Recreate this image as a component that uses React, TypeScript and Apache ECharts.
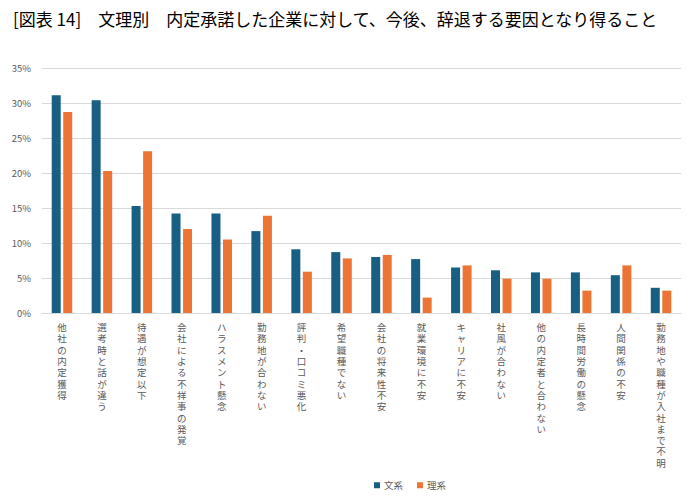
import React, { useEffect, useRef } from "react";
import * as echarts from "echarts";

const categories = [
  "他社の内定獲得",
  "選考時と話が違う",
  "待遇が想定以下",
  "会社による不祥事の発覚",
  "ハラスメント懸念",
  "勤務地が合わない",
  "評判・口コミ悪化",
  "希望職種でない",
  "会社の将来性不安",
  "就業環境に不安",
  "キャリアに不安",
  "社風が合わない",
  "他の内定者と合わない",
  "長時間労働の懸念",
  "人間関係の不安",
  "勤務地や職種が入社まで不明",
];

const bunkei = [31.1, 30.4, 15.3, 14.2, 14.2, 11.7, 9.1, 8.7, 8.0, 7.7, 6.5, 6.1, 5.8, 5.8, 5.4, 3.6];
const rikei = [28.7, 20.3, 23.1, 12.0, 10.5, 13.9, 5.9, 7.8, 8.3, 2.2, 6.8, 4.9, 4.9, 3.2, 6.8, 3.2];

const seriesNames = ["文系", "理系"];
const titleText = "[図表 14]　文理別　内定承諾した企業に対して、今後、辞退する要因となり得ること";

const FONT = "'Noto Sans CJK JP', 'Noto Sans', sans-serif";
const LABEL_FONT = "'Liberation Sans', 'Noto Sans CJK JP', sans-serif";

export default function App() {
  const ref = useRef<HTMLDivElement>(null);
  useEffect(() => {
    if (!ref.current) return;
    const chart = echarts.init(ref.current, null, { renderer: "svg" });
    chart.setOption({
      animation: false,
      backgroundColor: "#ffffff",
      textStyle: { fontFamily: FONT },
      title: {
        text: titleText,
        left: 8,
        top: 5,
        textStyle: { fontSize: 17, fontWeight: "normal", color: "#000000", fontFamily: FONT },
      },
      legend: {
        data: seriesNames,
        bottom: 9,
        left: 369,
        itemWidth: 6,
        itemHeight: 6,
        itemGap: 14,
        icon: "rect",
        textStyle: { fontSize: 9.5, color: "#595959", fontFamily: FONT, padding: [0, 0, 0, -1] },
      },
      grid: { left: 42, right: 17, top: 68, bottom: 191, containLabel: false },
      xAxis: {
        type: "category",
        data: categories,
        axisLine: { lineStyle: { color: "#d9d9d9" } },
        axisTick: { show: false },
        axisLabel: {
          interval: 0,
          margin: 9,
          fontSize: 9.5,
          lineHeight: 11.3,
          color: "#595959",
          fontFamily: LABEL_FONT,
          formatter: (v: string) => Array.from(v).join("\n"),
        },
      },
      yAxis: {
        type: "value",
        min: 0,
        max: 35,
        interval: 5,
        axisLine: { show: false },
        axisTick: { show: false },
        splitLine: { lineStyle: { color: "#d9d9d9", width: 1 } },
        axisLabel: { formatter: "{value}%", fontSize: 9.5, color: "#595959", margin: 11, fontFamily: FONT },
      },
      series: [
        {
          name: seriesNames[0],
          type: "bar",
          data: bunkei,
          barWidth: 9,
          barGap: "28%",
          itemStyle: { color: "#175f83" },
        },
        {
          name: seriesNames[1],
          type: "bar",
          data: rikei,
          barWidth: 9,
          barGap: "28%",
          itemStyle: { color: "#ec7434" },
        },
      ],
    });
    return () => chart.dispose();
  }, []);
  return <div ref={ref} style={{ position: "fixed", left: 0, top: 0, width: 698, height: 504 }} />;
}
